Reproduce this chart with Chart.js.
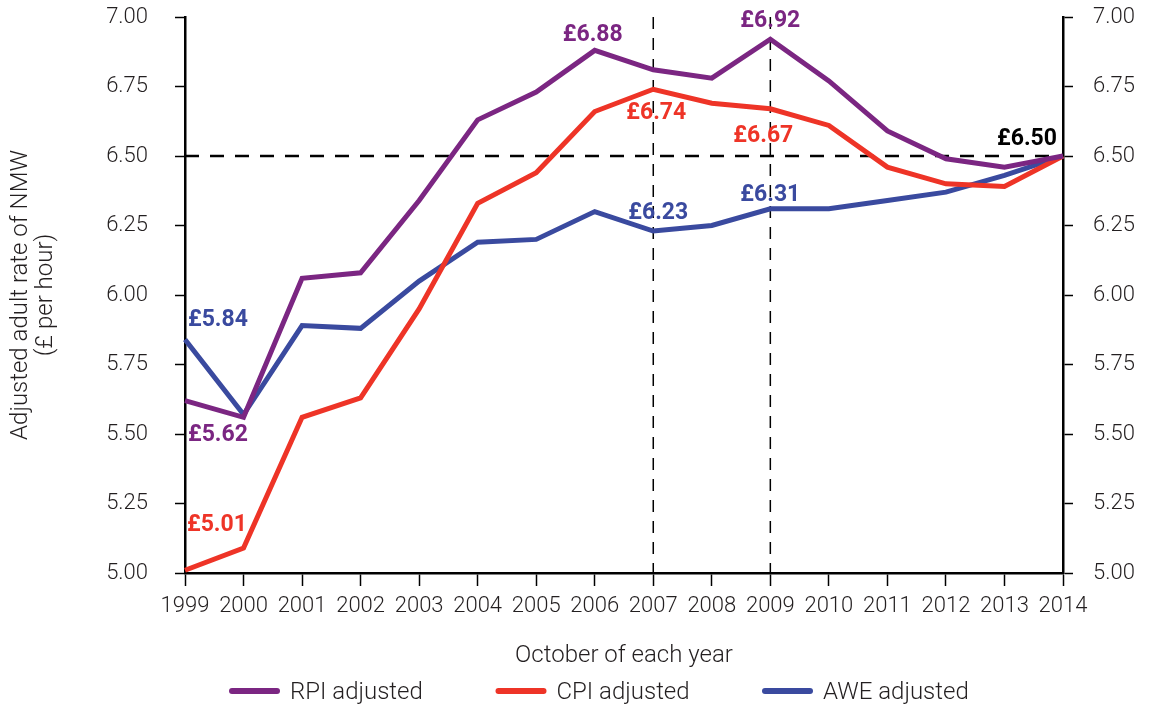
<!DOCTYPE html>
<html>
<head>
<meta charset="utf-8">
<script src="https://cdn.jsdelivr.net/npm/chart.js@4.4.1/dist/chart.umd.min.js"></script>
<style>
  html, body { margin: 0; padding: 0; background: #fff; }
  #wrap { width: 1150px; height: 706px; }
</style>
</head>
<body>
<div id="wrap"><canvas id="nmwChart" width="1150" height="706"></canvas></div>
<script>
// October of each year
const years = ['1999', '2000', '2001', '2002', '2003', '2004', '2005', '2006',
  '2007', '2008', '2009', '2010', '2011', '2012', '2013', '2014'];

// adjusted adult NMW rate, £ per hour
const rpiValues = [5.62, 5.56, 6.06, 6.08, 6.34, 6.63, 6.73, 6.88, 6.81, 6.78, 6.92, 6.77, 6.59, 6.49, 6.46, 6.50];
const cpiValues = [5.01, 5.09, 5.56, 5.63, 5.95, 6.33, 6.44, 6.66, 6.74, 6.69, 6.67, 6.61, 6.46, 6.40, 6.39, 6.50];
const aweValues = [5.84, 5.57, 5.89, 5.88, 6.05, 6.19, 6.20, 6.30, 6.23, 6.25, 6.31, 6.31, 6.34, 6.37, 6.43, 6.50];

const yMin = 5.0;
const yMax = 7.0;
const yStep = 0.25;

const currentRate = 6.50;
const markerYears = ['2007', '2009'];

// which points get a £ label
const rpiCallouts = ['1999', '2006', '2009'];
const cpiCallouts = ['1999', '2007', '2009'];
const aweCallouts = ['1999', '2007', '2009'];

const FONT = 'Roboto, "Liberation Sans", Arial, sans-serif';
const TEXT = '#231f20';
const PURPLE = '#7b2682';
const RED = '#ee3427';
const BLUE = '#3a4a9f';

Chart.defaults.font.family = FONT;
Chart.defaults.color = TEXT;

// dashed guide lines (current rate + two marker years)
const guideLines = {
  id: 'guideLines',
  beforeDatasetsDraw(chart) {
    const { ctx, chartArea: a, scales: { x, y } } = chart;
    ctx.save();
    ctx.strokeStyle = '#000';
    ctx.lineWidth = 2.5;
    ctx.setLineDash([14, 11]);
    const yy = y.getPixelForValue(currentRate);
    ctx.beginPath();
    ctx.moveTo(a.left, yy);
    ctx.lineTo(a.right, yy);
    ctx.stroke();

    ctx.lineWidth = 1.5;
    ctx.setLineDash([12, 9]);
    markerYears.forEach((yr) => {
      const xx = x.getPixelForValue(years.indexOf(yr));
      ctx.beginPath();
      ctx.moveTo(xx, a.top);
      ctx.lineTo(xx, a.bottom);
      ctx.stroke();
    });
    ctx.restore();
  }
};

// £ labels next to selected points  [dx, dy (baseline), align]
const calloutPos = {
  rpi: { '1999': [3, 40, 'left'], '2006': [-2, -9, 'center'], '2009': [0, -12, 'center'] },
  cpi: { '1999': [2, -39, 'left'], '2007': [3, 30, 'center'], '2009': [-7, 33, 'center'] },
  awe: { '1999': [3, -13, 'left'], '2007': [5, -12, 'center'], '2009': [0, -8, 'center'] }
};

const callouts = {
  id: 'callouts',
  afterDatasetsDraw(chart) {
    const { ctx, scales: { x, y } } = chart;
    ctx.save();
    ctx.font = 'bold 23px ' + FONT;
    ctx.textBaseline = 'alphabetic';
    const groups = [
      ['rpi', rpiValues, rpiCallouts, PURPLE],
      ['cpi', cpiValues, cpiCallouts, RED],
      ['awe', aweValues, aweCallouts, BLUE]
    ];
    groups.forEach(([key, values, picks, color]) => {
      ctx.fillStyle = color;
      picks.forEach((yr) => {
        const i = years.indexOf(yr);
        const [dx, dy, align] = calloutPos[key][yr];
        ctx.textAlign = align;
        ctx.fillText('£' + values[i].toFixed(2), x.getPixelForValue(i) + dx, y.getPixelForValue(values[i]) + dy);
      });
    });
    // common end point
    const last = years.length - 1;
    ctx.fillStyle = '#000';
    ctx.textAlign = 'right';
    ctx.fillText('£' + currentRate.toFixed(2), x.getPixelForValue(last) - 6, y.getPixelForValue(currentRate) - 11);
    ctx.restore();
  }
};

// legend row under the axis title
const bottomLegend = {
  id: 'bottomLegend',
  afterDraw(chart) {
    const { ctx } = chart;
    let x = 229;
    ctx.save();
    ctx.font = '300 24px ' + FONT;
    ctx.textBaseline = 'alphabetic';
    ctx.textAlign = 'left';
    chart.data.datasets.forEach((ds) => {
      ctx.strokeStyle = ds.borderColor;
      ctx.lineWidth = 6;
      ctx.lineCap = 'round';
      ctx.beginPath();
      ctx.moveTo(x + 3, 691);
      ctx.lineTo(x + 48, 691);
      ctx.stroke();
      ctx.fillStyle = TEXT;
      ctx.fillText(ds.label, x + 61, 699);
      x += 266.5;
    });
    ctx.restore();
  }
};

const tickFont = { size: 22, weight: 300 };

// keep tick padding from pushing the plot area down
function fixVertical(width) {
  return (scale) => {
    scale.width = width;
    scale.paddingTop = 14;
    scale.paddingBottom = 14;
  };
}

new Chart(document.getElementById('nmwChart'), {
  type: 'line',
  data: {
    labels: years,
    datasets: [
      { label: 'RPI adjusted', data: rpiValues, borderColor: PURPLE },
      { label: 'CPI adjusted', data: cpiValues, borderColor: RED },
      { label: 'AWE adjusted', data: aweValues, borderColor: BLUE }
    ]
  },
  options: {
    responsive: false,
    animation: false,
    layout: { padding: { top: 17, left: 0, right: 0, bottom: 0 } },
    elements: {
      line: { borderWidth: 5, tension: 0, borderJoinStyle: 'miter', fill: false },
      point: { radius: 0, hoverRadius: 0 }
    },
    plugins: {
      legend: { display: false },
      tooltip: { enabled: false }
    },
    scales: {
      x: {
        grid: { drawOnChartArea: false, drawTicks: true, tickLength: 13, color: '#000', tickWidth: 1.5 },
        border: { display: true, color: '#000', width: 2.5 },
        ticks: { autoSkip: false, maxRotation: 0, padding: 7, font: tickFont, color: TEXT },
        title: {
          display: true,
          text: 'October of each year',
          font: { size: 24, weight: 300 },
          color: TEXT,
          padding: { top: 0, bottom: 36 }
        },
        afterFit(scale) { scale.height = 133; }
      },
      y: {
        position: 'left',
        min: yMin,
        max: yMax,
        grid: { drawOnChartArea: false, drawTicks: true, tickLength: 10, color: '#000', tickWidth: 1.5 },
        border: { display: true, color: '#000', width: 2.5 },
        ticks: {
          stepSize: yStep,
          padding: 27,
          font: tickFont,
          color: TEXT,
          callback: (v) => Number(v).toFixed(2)
        },
        title: {
          display: true,
          text: ['Adjusted adult rate of NMW', '(£ per hour)'],
          font: { size: 24, weight: 300, lineHeight: 1.05 },
          color: TEXT,
          padding: { top: 8, bottom: 0 }
        },
        afterFit: fixVertical(185)
      },
      yRight: {
        position: 'right',
        min: yMin,
        max: yMax,
        grid: { drawOnChartArea: false, drawTicks: true, tickLength: 10, color: '#000', tickWidth: 1.5 },
        border: { display: true, color: '#000', width: 2.5 },
        ticks: {
          stepSize: yStep,
          padding: 20,
          font: tickFont,
          color: TEXT,
          callback: (v) => Number(v).toFixed(2)
        },
        afterFit: fixVertical(87)
      }
    }
  },
  plugins: [guideLines, callouts, bottomLegend]
});
</script>
</body>
</html>
